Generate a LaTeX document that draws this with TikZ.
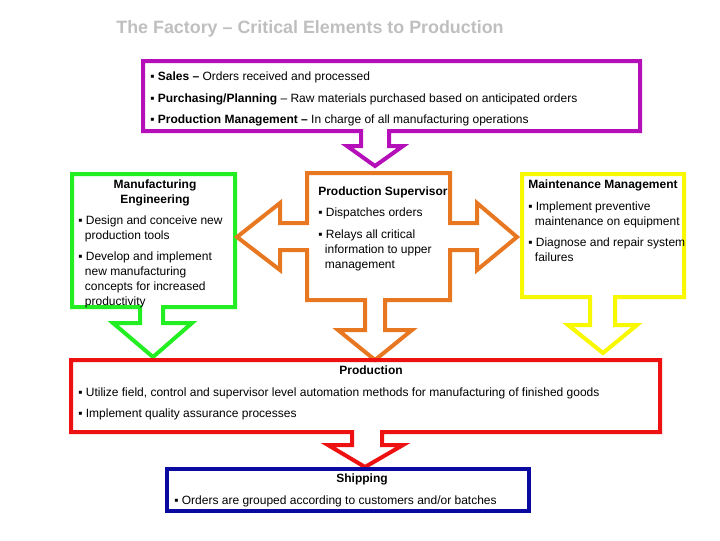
\documentclass[tikz,border=0pt]{standalone}
\usepackage{fontspec}
\setmainfont{Liberation Sans}
\definecolor{cpurple}{HTML}{B40FB9}
\definecolor{cgreen}{HTML}{22EE22}
\definecolor{corange}{HTML}{E87722}
\definecolor{cyellow}{HTML}{F8F800}
\definecolor{cred}{HTML}{EE1111}
\definecolor{cblue}{HTML}{0A0AA0}
\definecolor{ctitle}{HTML}{BFBFBF}
\newcommand\linesL[1]{\begin{tabular}[t]{@{}l@{}}#1\end{tabular}}
\newcommand\linesC[1]{\begin{tabular}[t]{@{}c@{}}#1\end{tabular}}
\begin{document}
\begin{tikzpicture}[x=0.75pt,y=-0.75pt]
\tikzset{
  shapeline/.style={line width=3pt, line join=miter},
  txt/.style={font=\fontsize{9}{11.25}\selectfont, inner sep=0pt, anchor=base west},
  hd/.style={font=\bfseries\fontsize{9}{11.25}\selectfont, inner sep=0pt, anchor=base},
}
\useasboundingbox (0,0) rectangle (720,540);
% title
\node[font=\bfseries\fontsize{13.4}{15}\selectfont, text=ctitle, inner sep=0pt, anchor=base] (title) at (310,33) {The Factory -- Critical Elements to Production};

% purple callout
\draw[shapeline, cpurple] (143,61) -- (640,61) -- (640,131) -- (389,131) -- (389,146) -- (403,146) -- (375,166) -- (347,146) -- (361,146) -- (361,131) -- (143,131) -- cycle;
\node[txt] (sales) at (150,80) {▪ \textbf{Sales --} Orders received and processed};
\node[txt] (purch) at (150,102) {▪ \textbf{Purchasing/Planning} -- Raw materials purchased based on anticipated orders};
\node[txt] (pm) at (150,123) {▪ \textbf{Production Management --} In charge of all manufacturing operations};

% green callout
\draw[shapeline, cgreen] (72,174) -- (235,174) -- (235,307) -- (163,307) -- (163,323) -- (192,323) -- (153,357) -- (113,323) -- (140,323) -- (140,307) -- (72,307) -- cycle;
\node[hd] (mehd) at (155,188) {\linesC{Manufacturing\\Engineering}};
\node[txt] (me1) at (78,224) {\linesL{▪ Design and conceive new\\\hspace*{5pt}production tools}};
\node[txt] (me2) at (78,260) {\linesL{▪ Develop and implement\\\hspace*{5pt}new manufacturing\\\hspace*{5pt}concepts for increased\\\hspace*{5pt}productivity}};

% orange cross
\draw[shapeline, corange] (307,173) -- (450,173) -- (450,223) -- (477,223) -- (477,203) -- (517,237) -- (477,270) -- (477,250) -- (450,250) -- (450,300) -- (385,300) -- (385,330) -- (412,330) -- (375,360) -- (338,330) -- (365,330) -- (365,300) -- (307,300) -- (307,250) -- (280,250) -- (280,270) -- (237,237) -- (280,203) -- (280,223) -- (307,223) -- cycle;
\node[txt, font=\bfseries\fontsize{9}{11.25}\selectfont] (pshd) at (318,195) {Production Supervisor};
\node[txt] (ps1) at (318,216) {▪ Dispatches orders};
\node[txt] (ps2) at (318,238) {\linesL{▪ Relays all critical\\\hspace*{5pt}information to upper\\\hspace*{5pt}management}};

% yellow callout
\draw[shapeline, cyellow] (522,174) -- (684,174) -- (684,297) -- (615,297) -- (615,325) -- (637,325) -- (603,353) -- (568,325) -- (590,325) -- (590,297) -- (522,297) -- cycle;
\node[txt, font=\bfseries\fontsize{9}{11.25}\selectfont] (mmhd) at (528,188) {Maintenance Management};
\node[txt] (mm1) at (528,210) {\linesL{▪ Implement preventive\\\hspace*{5pt}maintenance on equipment}};
\node[txt] (mm2) at (528,246) {\linesL{▪ Diagnose and repair system\\\hspace*{5pt}failures}};

% red callout
\draw[shapeline, cred] (71,360) -- (660,360) -- (660,432) -- (382,432) -- (382,445) -- (403,445) -- (365,467) -- (328,445) -- (352,445) -- (352,432) -- (71,432) -- cycle;
\node[hd] (prhd) at (371,374) {Production};
\node[txt] (pr1) at (78,396) {▪ Utilize field, control and supervisor level automation methods for manufacturing of finished goods};
\node[txt] (pr2) at (78,417) {▪ Implement quality assurance processes};

% blue box
\draw[shapeline, cblue] (167,469) rectangle (529,511);
\node[hd] (shhd) at (362,482) {Shipping};
\node[txt] (sh1) at (174,504) {▪ Orders are grouped according to customers and/or batches};
\end{tikzpicture}
\end{document}
